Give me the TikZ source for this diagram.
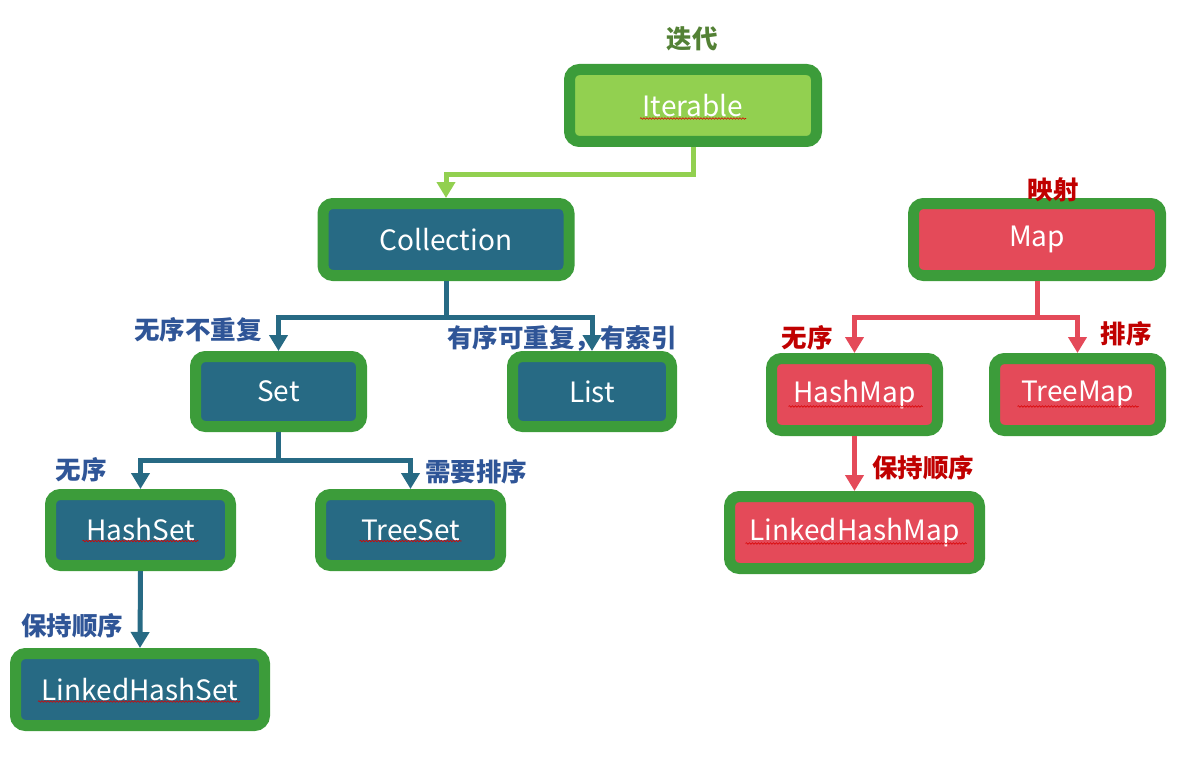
\documentclass[tikz,border=0pt]{standalone}
\usepackage{fontspec}
\newfontfamily\cjk{Noto Sans CJK SC}
\usetikzlibrary{arrows.meta,decorations.pathmorphing}
\definecolor{boxgreen}{HTML}{3C9C3A}
\definecolor{itfill}{HTML}{92D050}
\definecolor{tealc}{HTML}{276A84}
\definecolor{redc}{HTML}{E44A59}
\definecolor{lblue}{HTML}{2F5597}
\definecolor{lred}{HTML}{C00000}
\definecolor{lgreen}{HTML}{538135}
\tikzset{
  box/.style={draw=boxgreen, line width=11pt, rounded corners=10pt, text=white,
    font=\cjk\fontsize{28}{32}\selectfont, inner sep=0pt, minimum height=72pt},
  itbox/.style={box, fill=itfill},
  tbox/.style={box, fill=tealc},
  rbox/.style={box, fill=redc},
  conn/.style={line width=5pt, line join=miter, -{Triangle[width=18pt,length=16pt]}},
  gconn/.style={line width=5pt, line join=miter, draw=itfill, -{Triangle[width=18pt,length=16pt]}},
  tconn/.style={conn, draw=tealc},
  rconn/.style={conn, draw=redc},
  lbl/.style={font=\cjk\bfseries\fontsize{25.5}{28}\selectfont, inner sep=0pt},
  blbl/.style={lbl, text=lblue},
  rlbl/.style={lbl, text=lred},
  squig/.style={draw=red!85!black, line width=0.6pt, decorate,
    decoration={snake, segment length=3pt, amplitude=0.8pt}}
}
\begin{document}
\begin{tikzpicture}[x=1pt,y=-1pt]
\useasboundingbox (0,0) rectangle (1183,757);
% nodes
\node[itbox, minimum width=247pt] (it) at (693,105.5) {Iterable};
\node[tbox, minimum width=246pt] (coll) at (446,239.5) {Collection};
\node[tbox, minimum width=166pt, minimum height=70pt] (set) at (278.5,391.5) {Set};
\node[tbox, minimum width=159pt, minimum height=70pt] (list) at (592,391.5) {List};
\node[tbox, minimum width=180pt, minimum height=71pt] (hs) at (140.5,530) {HashSet};
\node[tbox, minimum width=180pt, minimum height=71pt] (ts) at (410.5,530) {TreeSet};
\node[tbox, minimum width=249pt] (lhs) at (140,689.5) {LinkedHashSet};
\node[rbox, minimum width=247pt] (map) at (1037,239.5) {Map};
\node[rbox, minimum width=166pt] (hm) at (854.5,394.5) {HashMap};
\node[rbox, minimum width=166pt] (tm) at (1077.5,394.5) {TreeMap};
\node[rbox, minimum width=250pt] (lhm) at (854.5,532.5) {LinkedHashMap};
% squiggles
\draw[squig] ([xshift=-53pt,yshift=-13pt]it.center) -- ++(106,0);
\draw[squig] ([xshift=-58pt,yshift=-11pt]hs.center) -- ++(116,0);
\draw[squig] ([xshift=-51pt,yshift=-11pt]ts.center) -- ++(102,0);
\draw[squig] ([xshift=-102pt,yshift=-12pt]lhs.center) -- ++(202,0);
\draw[squig] ([xshift=-66pt,yshift=-12pt]hm.center) -- ++(134,0);
\draw[squig] ([xshift=-60pt,yshift=-12pt]tm.center) -- ++(121,0);
\draw[squig] ([xshift=-109pt,yshift=-11pt]lhm.center) -- ++(221,0);
% connectors
\coordinate (ij) at (693,174);
\coordinate (cj) at (446,317);
\coordinate (sj) at (278.5,460);
\coordinate (mj) at (1037,317);
\draw[gconn] (it.south) -- (ij) -| (coll.north);
\draw[tconn] (coll.south) -- (cj) -| (set.north);
\draw[tconn] (coll.south) -- (cj) -| (list.north);
\draw[tconn] (set.south) -- (sj) -| (hs.north);
\draw[tconn] (set.south) -- (sj) -| (ts.north);
\draw[tconn] (hs.south) -- (lhs.north);
\draw[rconn] (map.south) -- (mj) -| (hm.north);
\draw[rconn] (map.south) -- (mj) -| (tm.north);
\draw[rconn] (hm.south) -- (lhm.north);
% labels
\node[lbl, text=lgreen] (l1) at (692,39) {迭代};
\node[blbl] (l2) at (198,330) {无序不重复};
\node[blbl] (l3) at (562,338) {有序可重复，有索引};
\node[blbl] (l4) at (81,470) {无序};
\node[blbl] (l5) at (476,472) {需要排序};
\node[blbl] (l6) at (72,626) {保持顺序};
\node[rlbl] (l7) at (1053,190) {映射};
\node[rlbl] (l8) at (807,338) {无序};
\node[rlbl] (l9) at (1126,334) {排序};
\node[rlbl] (l10) at (923,468) {保持顺序};
\end{tikzpicture}
\end{document}
